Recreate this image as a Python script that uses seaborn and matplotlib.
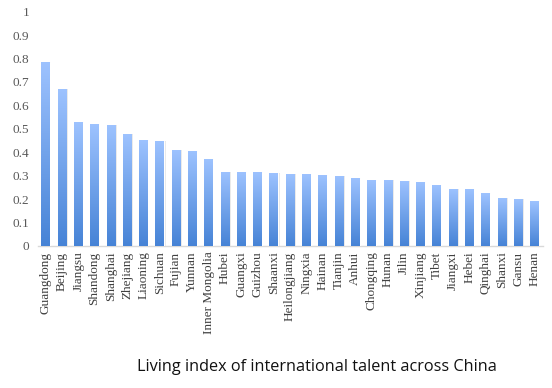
import numpy as np
import pandas as pd
import matplotlib
matplotlib.use("Agg")
import matplotlib.pyplot as plt
import seaborn as sns
from matplotlib.colors import LinearSegmentedColormap

provinces = ["Guangdong", "Beijing", "Jiangsu", "Shandong", "Shanghai", "Zhejiang",
             "Liaoning", "Sichuan", "Fujian", "Yunnan", "Inner Mongolia", "Hubei",
             "Guangxi", "Guizhou", "Shaanxi", "Heilongjiang", "Ningxia", "Hainan",
             "Tianjin", "Anhui", "Chongqing", "Hunan", "Jilin", "Xinjiang", "Tibet",
             "Jiangxi", "Hebei", "Qinghai", "Shanxi", "Gansu", "Henan"]
index_values = [0.786, 0.671, 0.530, 0.521, 0.517, 0.479, 0.453, 0.449, 0.410, 0.406,
                0.372, 0.316, 0.316, 0.316, 0.312, 0.308, 0.308, 0.303, 0.299, 0.291,
                0.282, 0.282, 0.278, 0.274, 0.261, 0.244, 0.244, 0.226, 0.205, 0.201,
                0.192]
yticks = [0, 0.1, 0.2, 0.3, 0.4, 0.5, 0.6, 0.7, 0.8, 0.9, 1]
ytick_labels = ["0", "0.1", "0.2", "0.3", "0.4", "0.5", "0.6", "0.7", "0.8", "0.9", "1"]
title = "Living index of international talent across China"

df = pd.DataFrame({"province": provinces, "value": index_values})

sns.set_style("white")
fig = plt.figure(figsize=(5.52, 3.88), dpi=100)
ax = fig.add_axes([0.068, 0.366, 0.915, 0.604])

sns.barplot(data=df, x="province", y="value", color="#7aa8ec", width=0.53,
            saturation=1, ax=ax, zorder=3)

# gradient fill + soft shadow for each bar (Excel style)
cmap = LinearSegmentedColormap.from_list("bar", ["#4683d6", "#9ec3ff"])
grad = np.linspace(0, 1, 256).reshape(-1, 1)
for p in ax.patches:
    x0, w, h = p.get_x(), p.get_width(), p.get_height()
    shadow = plt.Rectangle((x0 + 0.09, 0), w, h, color="#e6e6e6", zorder=2, lw=0)
    ax.add_patch(shadow)
    im = ax.imshow(grad, extent=[x0, x0 + w, 0, h], origin="lower", aspect="auto",
                   cmap=cmap, zorder=4)
    im.set_clip_path(p)
    p.set_facecolor("none")

ax.set_xlim(-0.5, len(provinces) - 0.5)
ax.set_ylim(0, 1)
ax.set_yticks(yticks)
ax.set_yticklabels(ytick_labels)
ax.set_xlabel("")
ax.set_ylabel("")
ax.tick_params(axis="y", length=0, pad=6, labelsize=9.5, labelcolor="#595959")
ax.tick_params(axis="x", length=0, pad=4, labelsize=9.5, labelcolor="#404040",
               rotation=90)
for lab in ax.get_xticklabels() + ax.get_yticklabels():
    lab.set_fontfamily("Liberation Serif")

for s in ["top", "right", "left"]:
    ax.spines[s].set_visible(False)
ax.spines["bottom"].set_color("#d9d9d9")
ax.spines["bottom"].set_linewidth(1)

fig.text(0.575, 0.055, title, ha="center", va="center", fontsize=11.7,
         family="Open Sans", color="#111111")

fig.savefig("out.png", dpi=100)
